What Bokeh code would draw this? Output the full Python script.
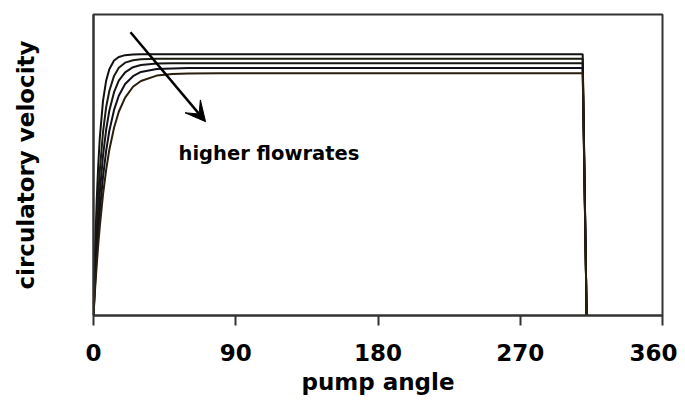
from bokeh.plotting import figure
from bokeh.models import Range1d, FixedTicker, Arrow, VeeHead, Label
from bokeh.embed import file_html
from bokeh.resources import INLINE

# pump angle (degrees)
angle = [0, 1, 2, 3, 4, 6, 8, 10, 13, 16, 20, 25, 30, 40, 50, 60, 80, 309.5, 312]

# circulatory velocity (arbitrary units), one series per flowrate
vel_1 = [0, .216, .378, .500, .591, .712, .780, .818, .847, .859, .865, .867, .868, .868, .868, .868, .868, .868, 0]
vel_2 = [0, .160, .291, .397, .482, .608, .692, .746, .796, .823, .840, .848, .851, .853, .853, .853, .853, .853, 0]
vel_3 = [0, .129, .237, .330, .408, .530, .617, .680, .742, .780, .808, .825, .832, .837, .838, .838, .838, .838, 0]
vel_4 = [0, .105, .197, .277, .347, .460, .547, .613, .683, .730, .769, .795, .809, .819, .821, .822, .822, .822, 0]
vel_5 = [0, .088, .165, .235, .297, .401, .484, .550, .624, .677, .724, .760, .779, .797, .802, .804, .805, .805, 0]

series = [vel_1, vel_2, vel_3, vel_4, vel_5]
colors = ["#111111", "#1a1a10", "#141414", "#10101c", "#2a1e0c"]

x_ticks = [0, 90, 180, 270, 360]

FONT = "DejaVu Sans"

p = figure(width=677, height=397, output_backend="svg", toolbar_location=None,
           x_range=Range1d(0, 360), y_range=Range1d(0, 1),
           min_border_left=93, min_border_right=15, min_border_top=14, min_border_bottom=77)

p.grid.visible = False
p.background_fill_color = "white"
p.border_fill_color = "white"
p.outline_line_color = "#333333"
p.outline_line_width = 2

for ys, c in zip(series, colors):
    p.line(angle, ys, line_color=c, line_width=2)

# x axis
p.xaxis.ticker = FixedTicker(ticks=x_ticks)
p.xaxis.major_tick_out = 10
p.xaxis.major_tick_in = 0
p.xaxis.minor_tick_line_color = None
p.xaxis.major_tick_line_color = "#333333"
p.xaxis.major_tick_line_width = 2
p.xaxis.axis_line_color = "#333333"
p.xaxis.axis_line_width = 2
p.xaxis.major_label_text_font = FONT
p.xaxis.major_label_text_font_style = "bold"
p.xaxis.major_label_text_font_size = "23px"
p.xaxis.major_label_text_color = "black"
p.xaxis.major_label_standoff = 18
p.xaxis.axis_label = "pump angle"
p.xaxis.axis_label_text_font = FONT
p.xaxis.axis_label_text_font_style = "bold"
p.xaxis.axis_label_text_font_size = "23px"
p.xaxis.axis_label_text_color = "black"
p.xaxis.axis_label_standoff = 5

# y axis (no ticks)
p.yaxis.ticker = FixedTicker(ticks=[])
p.yaxis.major_tick_line_color = None
p.yaxis.minor_tick_line_color = None
p.yaxis.major_label_text_font_size = "0px"
p.yaxis.axis_line_color = "#333333"
p.yaxis.axis_line_width = 2
p.yaxis.axis_label = "circulatory velocity"
p.yaxis.axis_label_text_font = FONT
p.yaxis.axis_label_text_font_style = "bold"
p.yaxis.axis_label_text_font_size = "23px"
p.yaxis.axis_label_text_color = "black"
p.yaxis.axis_label_standoff = 55

# annotation
p.add_layout(Arrow(end=VeeHead(size=20, fill_color="black", line_color="black"),
                   x_start=23.4, y_start=0.941, x_end=70.9, y_end=0.644,
                   line_color="black", line_width=2.5))
p.add_layout(Label(x=53.8, y=0.539, text="higher flowrates", text_font=FONT,
                   text_font_style="bold", text_font_size="19.5px", text_color="black",
                   text_baseline="middle", text_align="left"))

open("out.html", "w").write(file_html(p, INLINE))
